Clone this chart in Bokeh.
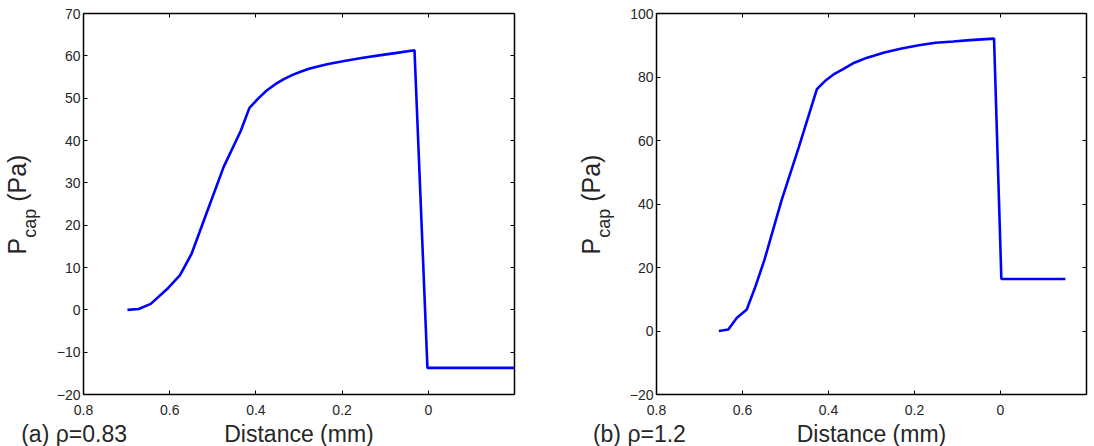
import math
from bokeh.plotting import figure
from bokeh.models import Range1d, LinearAxis, FixedTicker, Label
from bokeh.layouts import row, column
from bokeh.embed import file_html
from bokeh.resources import INLINE

# ---- data ----
x_ticks = [0.8, 0.6, 0.4, 0.2, 0.0]

# panel (a) rho = 0.83
dist_a = [0.698, 0.672, 0.644, 0.604, 0.576, 0.549, 0.515, 0.475, 0.435, 0.415,
          0.395, 0.375, 0.355, 0.335, 0.315, 0.295, 0.275, 0.235, 0.195, 0.155,
          0.114, 0.073, 0.032, 0.002, -0.2]
pcap_a = [0.0, 0.2, 1.4, 5.1, 8.2, 13.3, 22.7, 33.7, 42.3, 47.7,
          49.9, 51.8, 53.3, 54.5, 55.5, 56.3, 57.0, 58.0, 58.8, 59.5,
          60.1, 60.7, 61.3, -13.7, -13.7]
y_ticks_a = [-20, -10, 0, 10, 20, 30, 40, 50, 60, 70]
tag_a = "(a) \u03c1=0.83"

# panel (b) rho = 1.2
dist_b = [0.655, 0.633, 0.613, 0.590, 0.571, 0.549, 0.509, 0.469, 0.427, 0.406,
          0.386, 0.366, 0.340, 0.310, 0.270, 0.230, 0.190, 0.151, 0.110, 0.071,
          0.015, -0.002, -0.151]
pcap_b = [0.0, 0.5, 4.2, 6.8, 13.6, 22.4, 41.2, 57.9, 76.2, 79.0,
          81.0, 82.5, 84.5, 86.1, 87.7, 89.0, 90.0, 90.8, 91.2, 91.6,
          92.1, 16.4, 16.4]
y_ticks_b = [-20, 0, 20, 40, 60, 80, 100]
tag_b = "(b) \u03c1=1.2"

x_label = "Distance (mm)"

FONT = "Liberation Sans"
TXT = "#262626"
TOP_H = 421          # height of the plot row
BORDER_B = 27        # space below the frame (tick labels)
FRAME_B = TOP_H - BORDER_B   # frame bottom (shared by aligned strip)
BOT_H = 446 - TOP_H  # height of the caption strip


def style_axis(ax, ticks, labels=True, standoff=3):
    ax.ticker = FixedTicker(ticks=ticks)
    ax.axis_line_color = "black"
    ax.axis_line_width = 1.5
    ax.major_tick_in = 4
    ax.major_tick_out = 0
    ax.major_tick_line_color = "black"
    ax.minor_tick_line_color = None
    ax.major_label_text_font = FONT
    if labels:
        ax.major_label_text_color = TXT
        ax.major_label_text_font_size = "14px"
        ax.major_label_standoff = standoff
        ov = {}
        for t in ticks:
            if t == 0:
                ov[0] = "0"
            elif t < 0:
                ov[t] = "\u2212" + str(abs(t))
        ax.major_label_overrides = ov
    else:
        ax.major_label_text_color = None
        ax.major_label_text_font_size = "1px"
        ax.major_label_standoff = 0


def blank(width, height):
    f = figure(width=width, height=height, x_range=Range1d(0, 1),
               y_range=Range1d(0, 1), x_axis_type=None, y_axis_type=None,
               output_backend="svg", toolbar_location=None, min_border=0)
    f.outline_line_color = None
    f.xgrid.visible = False
    f.ygrid.visible = False
    f.background_fill_color = "white"
    f.border_fill_color = "white"
    return f


def make_panel(xs, ys, ylo, yhi, yticks, width, left, right):
    p = figure(width=width, height=TOP_H, x_range=Range1d(0.8, -0.2),
               y_range=Range1d(ylo, yhi), output_backend="svg",
               toolbar_location=None, min_border_left=left,
               min_border_right=right, min_border_top=13,
               min_border_bottom=BORDER_B)
    p.outline_line_color = None
    p.xgrid.visible = False
    p.ygrid.visible = False
    p.background_fill_color = "white"
    p.border_fill_color = "white"

    style_axis(p.xaxis[0], x_ticks, True, 10)
    style_axis(p.yaxis[0], yticks, True, 3)
    top = LinearAxis()
    style_axis(top, x_ticks, False)
    p.add_layout(top, "above")
    rgt = LinearAxis()
    style_axis(rgt, yticks, False)
    p.add_layout(rgt, "right")

    p.line(xs, ys, line_color="#0000ff", line_width=2.6)
    return p


def ylabel_strip(width, base_x):
    # this strip's frame is aligned with the neighbouring plot frame
    f = blank(width, TOP_H)
    common = dict(x_units="screen", y_units="screen", text_font=FONT,
                  text_color=TXT, text_baseline="middle",
                  angle=math.pi / 2, text_align="center")
    f.add_layout(Label(x=base_x - 8.6, y=FRAME_B - 245.7, text="P",
                       text_font_size="25px", **common))
    f.add_layout(Label(x=base_x + 4.3, y=FRAME_B - 222.8, text="cap",
                       text_font_size="18px", **common))
    f.add_layout(Label(x=base_x - 8.6, y=FRAME_B - 177.7, text="(Pa)",
                       text_font_size="25px", **common))
    return f


def caption_strip(width, tag, tag_x, label_cx):
    f = blank(width, BOT_H)
    common = dict(x_units="screen", y_units="screen", text_font=FONT,
                  text_color=TXT, text_baseline="middle",
                  text_font_size="23px")
    f.add_layout(Label(x=tag_x, y=12.8, text=tag, text_align="left", **common))
    f.add_layout(Label(x=label_cx, y=12.8, text=x_label, text_align="center", **common))
    return f


# left column: 0..560
ya = ylabel_strip(44, 25.5)
pa = make_panel(dist_a, pcap_a, -20, 70, y_ticks_a, 516, 39, 46)
ca = caption_strip(560, tag_a, 20.7, 298.5)

# right column: 560..1094
yb = ylabel_strip(60, 39.0)
pb = make_panel(dist_b, pcap_b, -20, 100, y_ticks_b, 474, 36, 8)
cb = caption_strip(534, tag_b, 32.4, 311.0)

layout = row(column(row(ya, pa), ca), column(row(yb, pb), cb))
open("out.html", "w").write(file_html(layout, INLINE))
